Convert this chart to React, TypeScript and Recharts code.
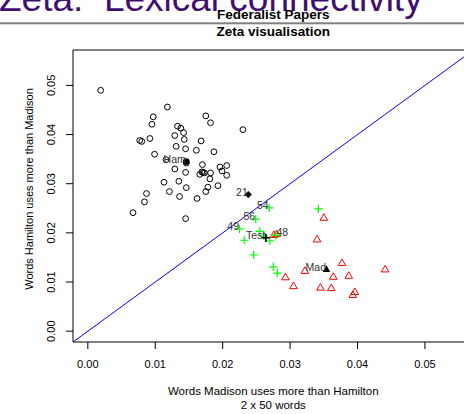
import React from 'react';
import { ScatterChart, Scatter, XAxis, YAxis, ReferenceLine, ReferenceArea, Label } from 'recharts';

// ---- data ----
const hamiltonPapers: [number, number][] = [
  [0.0019, 0.0490], [0.0118, 0.0456], [0.0097, 0.0436], [0.0095, 0.0421], [0.0175, 0.0438],
  [0.0182, 0.0424], [0.0230, 0.0410], [0.0133, 0.0417], [0.0138, 0.0413], [0.0142, 0.0404],
  [0.0129, 0.0398], [0.0143, 0.0390], [0.0077, 0.0388], [0.0080, 0.0386], [0.0092, 0.0392],
  [0.0168, 0.0387], [0.0131, 0.0376], [0.0145, 0.0371], [0.0161, 0.0368], [0.0187, 0.0365],
  [0.0099, 0.0360], [0.0116, 0.0349], [0.0146, 0.0342], [0.0170, 0.0339], [0.0129, 0.0330],
  [0.0196, 0.0334], [0.0206, 0.0337], [0.0199, 0.0326], [0.0206, 0.0317], [0.0171, 0.0323],
  [0.0173, 0.0322], [0.0169, 0.0324], [0.0166, 0.0319], [0.0182, 0.0322], [0.0145, 0.0323],
  [0.0181, 0.0310], [0.0135, 0.0305], [0.0113, 0.0303], [0.0193, 0.0296], [0.0146, 0.0292],
  [0.0178, 0.0293], [0.0121, 0.0284], [0.0175, 0.0284], [0.0087, 0.0280], [0.0136, 0.0274],
  [0.0162, 0.0270], [0.0084, 0.0263], [0.0067, 0.0241], [0.0145, 0.0229],
];

const madisonPapers: [number, number][] = [
  [0.0350, 0.0230], [0.0340, 0.0186], [0.0377, 0.0138], [0.0441, 0.0125], [0.0322, 0.0122],
  [0.0305, 0.0091], [0.0364, 0.0110], [0.0387, 0.0112], [0.0345, 0.0088], [0.0361, 0.0087],
  [0.0396, 0.0079], [0.0393, 0.0073], [0.0293, 0.0109], [0.0276, 0.0195], [0.0280, 0.0197],
];

const disputedPapers: { x: number; y: number; label?: string; pos?: number }[] = [
  { x: 0.0269, y: 0.0251, label: '54', pos: 2 },
  { x: 0.0249, y: 0.0228, label: '56', pos: 2 },
  { x: 0.0225, y: 0.0208, label: '49', pos: 2 },
  { x: 0.0279, y: 0.0195, label: '48', pos: 4 },
  { x: 0.0232, y: 0.0185 },
  { x: 0.0246, y: 0.0155 },
  { x: 0.0275, y: 0.0131 },
  { x: 0.0281, y: 0.0118 },
  { x: 0.0270, y: 0.0184 },
  { x: 0.0255, y: 0.0203 },
  { x: 0.0261, y: 0.0194 },
  { x: 0.0342, y: 0.0249 },
];

const hamiltonCentre = [{ x: 0.0146, y: 0.0345, label: 'Ham', pos: 2 }];
const madisonCentre = [{ x: 0.0354, y: 0.0125, label: 'Mad', pos: 2 }];
const testCentre = [{ x: 0.0264, y: 0.0190, label: 'Test', pos: 2 }];
const paper21 = [{ x: 0.0238, y: 0.0278, label: '21', pos: 2 }];

const axisTicks = [0, 0.01, 0.02, 0.03, 0.04, 0.05];
const axisDomain: [number, number] = [-0.0022, 0.0572];

const slideTitle = 'Zeta:  Lexical connectivity';
const chartTitle = ['Federalist Papers', 'Zeta visualisation'];
const xTitle = ['Words Madison uses more than Hamilton', '2 x 50 words'];
const yTitle = 'Words Hamilton uses more than Madison';

// ---- derived tables ----
const hamData = hamiltonPapers.map(([x, y]) => ({ x, y }));
const madData = madisonPapers.map(([x, y]) => ({ x, y }));
const labelData = [
  ...hamiltonCentre, ...madisonCentre, ...testCentre, ...paper21,
  ...disputedPapers.filter((d) => d.label),
];

const FONT = '"Liberation Sans", Arial, Helvetica, sans-serif';

const OpenCircle = (p: any) => (
  <circle cx={p.cx} cy={p.cy} r={2.9} fill="none" stroke="#000" strokeWidth={1} />
);
const FilledCircle = (p: any) => <circle cx={p.cx} cy={p.cy} r={3.4} fill="#000" />;
const triPts = (cx: number, cy: number) =>
  `${cx},${cy - 4.4} ${cx + 3.8},${cy + 2.2} ${cx - 3.8},${cy + 2.2}`;
const OpenTriangle = (p: any) => (
  <polygon points={triPts(p.cx, p.cy)} fill="none" stroke="#ff0000" strokeWidth={1} />
);
const FilledTriangle = (p: any) => <polygon points={triPts(p.cx, p.cy)} fill="#000" />;
const plusPath = (cx: number, cy: number) => `M${cx - 4.1},${cy}H${cx + 4.1}M${cx},${cy - 4.1}V${cy + 4.1}`;
const GreenPlus = (p: any) => <path d={plusPath(p.cx, p.cy)} stroke="#00ff00" strokeWidth={1.2} fill="none" />;
const BlackPlus = (p: any) => <path d={plusPath(p.cx, p.cy)} stroke="#000" strokeWidth={1.6} fill="none" />;
const Diamond = (p: any) => (
  <polygon
    points={`${p.cx},${p.cy - 3.6} ${p.cx + 3.6},${p.cy} ${p.cx},${p.cy + 3.6} ${p.cx - 3.6},${p.cy}`}
    fill="#000"
  />
);
const PointLabel = (p: any) => {
  const right = p.payload.pos === 4;
  return (
    <text
      x={right ? p.cx + 0.5 : p.cx - 0.5}
      y={p.cy + 1}
      textAnchor={right ? 'start' : 'end'}
      fontSize={10.5}
      fontFamily={FONT}
      fill="#333"
    >
      {p.payload.label}
    </text>
  );
};

const XTick = (p: any) => (
  <text x={p.x} y={p.y} dy={19} textAnchor="middle" fontSize={11} fontFamily={FONT} fill="#000">
    {Number(p.payload.value).toFixed(2)}
  </text>
);
const YTick = (p: any) => {
  const x = p.x - 10.5;
  return (
    <text x={x} y={p.y} transform={`rotate(-90 ${x} ${p.y})`} textAnchor="middle" fontSize={11} fontFamily={FONT} fill="#000">
      {Number(p.payload.value).toFixed(2)}
    </text>
  );
};

const XTitle = (props: any) => {
  const vb = props.viewBox;
  const cx = vb.x + vb.width / 2;
  return (
    <g>
      <text x={cx} y={vb.y + 53} textAnchor="middle" fontSize={11.5} fontFamily={FONT} fill="#000">{xTitle[0]}</text>
      <text x={cx} y={vb.y + 67} textAnchor="middle" fontSize={11.5} fontFamily={FONT} fill="#000">{xTitle[1]}</text>
    </g>
  );
};
const YTitle = (props: any) => {
  const vb = props.viewBox;
  const x = vb.x + 33;
  const y = vb.y + vb.height / 2 - 7;
  return (
    <text x={x} y={y} transform={`rotate(-90 ${x} ${y})`} textAnchor="middle" fontSize={11} fontFamily={FONT} fill="#000">
      {yTitle}
    </text>
  );
};

export default function App() {
  return (
    <div style={{ position: 'fixed', left: 0, top: 0, width: 464, height: 414, overflow: 'hidden', background: '#fff' }}>
      <svg width={464} height={50} style={{ position: 'absolute', left: 0, top: 0 }}>
        <text x={-1} y={11} fontSize={37} fontFamily={FONT} fill="#3f0f6f" style={{ whiteSpace: 'pre' }}>
          {slideTitle}
        </text>
        <rect x={0} y={22.3} width={464} height={2} fill="#808080" />
        <text x={273.25} y={18.5} textAnchor="middle" fontSize={13.5} fontWeight="bold" fontFamily={FONT} fill="#000">
          {chartTitle[0]}
        </text>
        <text x={273.25} y={36} textAnchor="middle" fontSize={13.5} fontWeight="bold" fontFamily={FONT} fill="#000">
          {chartTitle[1]}
        </text>
      </svg>
      <div style={{ position: 'absolute', left: 0, top: 0 }}>
        <ScatterChart width={520} height={414} margin={{ top: 50, right: 46.5, bottom: 0, left: 0 }}>
          <XAxis
            type="number"
            dataKey="x"
            domain={axisDomain}
            ticks={axisTicks}
            allowDataOverflow
            interval={0}
            axisLine={false}
            tickLine={{ stroke: '#000' }}
            tickSize={7}
            tickMargin={0}
            tick={<XTick />}
            height={72}
          >
            <Label content={<XTitle />} />
          </XAxis>
          <YAxis
            type="number"
            dataKey="y"
            domain={axisDomain}
            ticks={axisTicks}
            allowDataOverflow
            interval={0}
            axisLine={false}
            tickLine={{ stroke: '#000' }}
            tickSize={7}
            tickMargin={0}
            tick={<YTick />}
            width={73}
          >
            <Label content={<YTitle />} />
          </YAxis>
          <ReferenceArea
            x1={axisDomain[0]}
            x2={axisDomain[1]}
            y1={axisDomain[0]}
            y2={axisDomain[1]}
            fill="none"
            fillOpacity={0}
            stroke="#000"
            strokeWidth={1}
            ifOverflow="visible"
          />
          <ReferenceLine
            segment={[{ x: axisDomain[0], y: axisDomain[0] }, { x: axisDomain[1], y: axisDomain[1] }]}
            stroke="#0000ff"
            strokeWidth={1}
            ifOverflow="hidden"
          />
          <Scatter data={hamData} shape={OpenCircle} isAnimationActive={false} />
          <Scatter data={madData} shape={OpenTriangle} isAnimationActive={false} />
          <Scatter data={disputedPapers} shape={GreenPlus} isAnimationActive={false} />
          <Scatter data={hamiltonCentre} shape={FilledCircle} isAnimationActive={false} />
          <Scatter data={madisonCentre} shape={FilledTriangle} isAnimationActive={false} />
          <Scatter data={testCentre} shape={BlackPlus} isAnimationActive={false} />
          <Scatter data={paper21} shape={Diamond} isAnimationActive={false} />
          <Scatter data={labelData} shape={PointLabel} isAnimationActive={false} />
        </ScatterChart>
      </div>
    </div>
  );
}
